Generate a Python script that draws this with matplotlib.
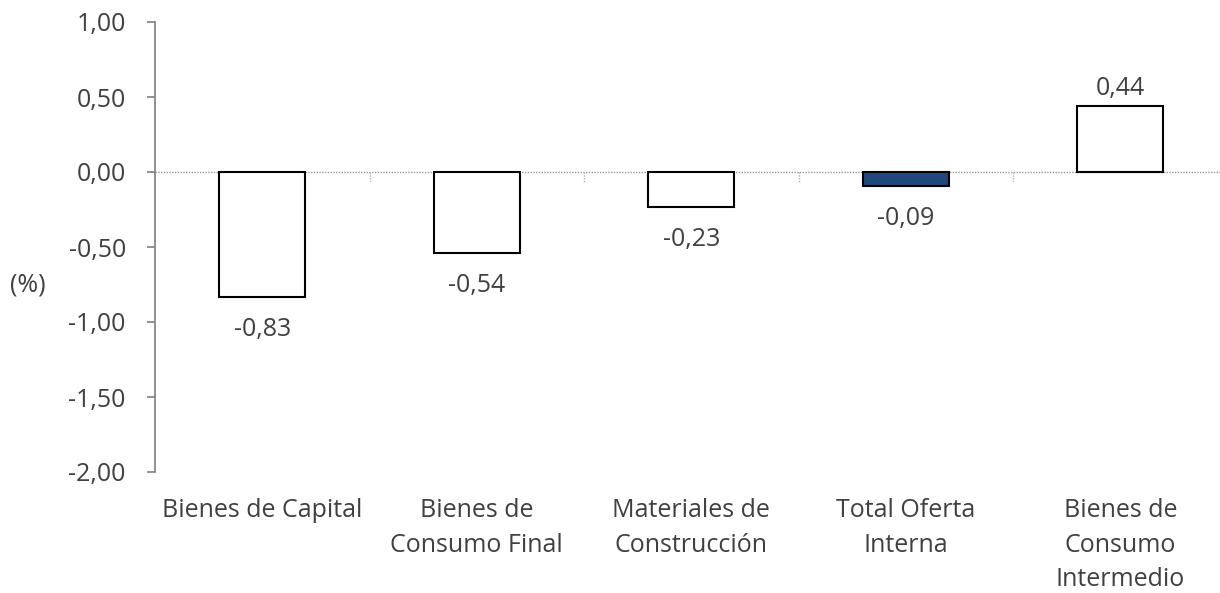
import matplotlib
matplotlib.use("Agg")
from matplotlib import pyplot as plt
import numpy as np

plt.rcParams['font.family'] = ['Open Sans', 'DejaVu Sans']

categorias = ["Bienes de Capital", "Bienes de\nConsumo Final", "Materiales de\nConstrucción",
              "Total Oferta\nInterna", "Bienes de\nConsumo\nIntermedio"]
valores = [-0.83, -0.54, -0.23, -0.09, 0.44]
colores = ["white", "white", "white", "#1F497D", "white"]
yticks = [1.0, 0.5, 0.0, -0.5, -1.0, -1.5, -2.0]

texto = "#404040"
fs = 18

fig = plt.figure(figsize=(12.2, 5.93), dpi=100)
# the axis runs a bit past the right border, like the original
ax = fig.add_axes([155/1220, 121/593, 1072.5/1220, 450/593])

x = np.arange(len(valores))
ax.bar(x, valores, width=0.4, color=colores, edgecolor="black", linewidth=1.5, zorder=3)

ax.set_xlim(-0.5, len(valores) - 0.5)
ax.set_ylim(-2.0, 1.0)

# linea de cero punteada y marcas entre categorias
ax.axhline(0, color="#999999", linestyle=(0, (1, 1)), linewidth=1, zorder=2)
for b in x[:-1] + 0.5:
    ax.plot([b, b], [0, -0.065], color="#b0b0b0", linestyle=(0, (1, 1)), linewidth=1, zorder=2)

for xi, v in zip(x, valores):
    etiqueta = ("%.2f" % v).replace(".", ",")
    if v < 0:
        ax.text(xi, v - 0.135, etiqueta, ha="center", va="top", fontsize=fs, color=texto)
    else:
        ax.text(xi, v + 0.035, etiqueta, ha="center", va="bottom", fontsize=fs, color=texto)

ax.set_yticks(yticks)
ax.set_yticklabels([("%.2f" % t).replace(".", ",") for t in yticks], fontsize=fs, color=texto)
ax.tick_params(axis="y", direction="out", length=6, width=1.2, color="#7f7f7f", pad=15)

ax.set_xticks(x)
ax.set_xticklabels(categorias, fontsize=fs, color=texto, linespacing=1.48, va="top")
ax.tick_params(axis="x", length=0, pad=19)

for s in ["top", "right", "bottom"]:
    ax.spines[s].set_visible(False)
ax.spines["left"].set_color("#7f7f7f")
ax.spines["left"].set_linewidth(1.2)

fig.text(10/1220, 1 - 285/593, "(%)", fontsize=fs, color=texto, va="center", ha="left")

plt.savefig("out.png", dpi=100)
